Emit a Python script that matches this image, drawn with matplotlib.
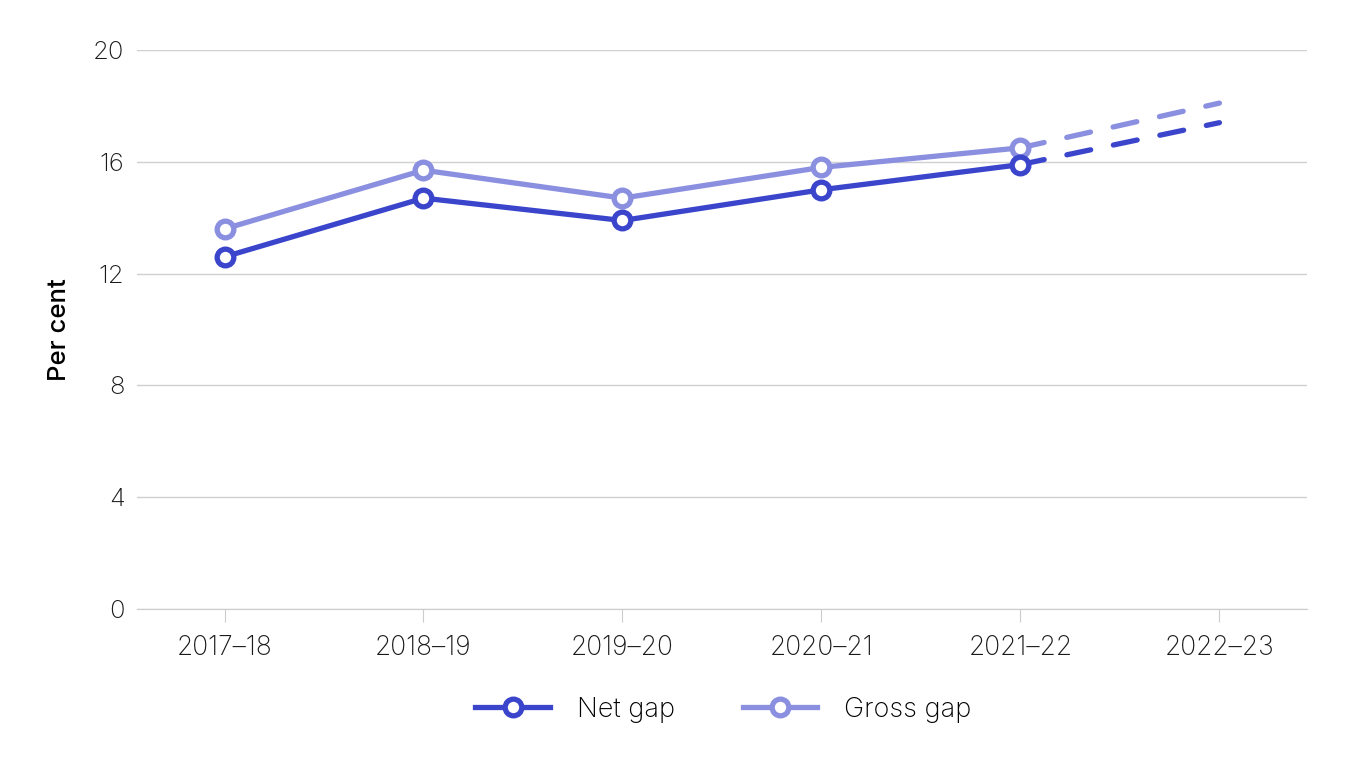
import matplotlib.pyplot as plt
from matplotlib.lines import Line2D

plt.rcParams['font.family'] = ['Inter', 'DejaVu Sans']

years = ['2017–18', '2018–19', '2019–20', '2020–21', '2021–22', '2022–23']
net_gap = [12.6, 14.7, 13.9, 15.0, 15.9]
gross_gap = [13.6, 15.7, 14.7, 15.8, 16.5]
# projections for 2022-23 (dashed)
net_proj = [15.9, 17.4]
gross_proj = [16.5, 18.1]

net_col = '#3a45cc'
gross_col = '#8a8fe0'
lw = 3.8

fig = plt.figure(figsize=(13.6, 7.6), dpi=100)
ax = fig.add_axes([0.1007, 0.1987, 0.8603, 0.7355])

x = list(range(len(years)))
n = len(net_gap)

dash = (0, (4.6, 4.4))
ax.plot(x[n - 1:], gross_proj, color=gross_col, lw=lw, ls=dash, dash_capstyle='round', zorder=2)
ax.plot(x[n - 1:], net_proj, color=net_col, lw=lw, ls=dash, dash_capstyle='round', zorder=2)
ax.plot(x[:n], gross_gap, color=gross_col, lw=lw, marker='o', ms=12, mfc='white', mec=gross_col, mew=lw, zorder=3)
ax.plot(x[:n], net_gap, color=net_col, lw=lw, marker='o', ms=12, mfc='white', mec=net_col, mew=lw, zorder=4)

ax.set_xlim(-0.44, 5.44)
ax.set_ylim(0, 20)
ax.set_yticks([0, 4, 8, 12, 16, 20])
ax.set_xticks(x)
ax.set_xticklabels(years)
ax.grid(axis='y', color='#d0d0d0', lw=1)
ax.set_axisbelow(True)
for s in ['top', 'right', 'left']:
    ax.spines[s].set_visible(False)
ax.spines['bottom'].set_color('#cccccc')
ax.tick_params(axis='y', length=0, pad=9, labelsize=18.5, labelcolor='#1a1a1a')
ax.tick_params(axis='x', length=9, color='#cccccc', pad=10, labelsize=19, labelcolor='#1a1a1a')
for t in ax.get_yticklabels() + ax.get_xticklabels():
    t.set_fontweight('light')
ax.set_ylabel('Per cent', fontsize=18.5, fontweight='medium', labelpad=16)

handles = [
    Line2D([], [], color=net_col, lw=lw, marker='o', ms=12, mfc='white', mec=net_col, mew=lw),
    Line2D([], [], color=gross_col, lw=lw, marker='o', ms=12, mfc='white', mec=gross_col, mew=lw),
]
leg = fig.legend(handles, ['Net gap', 'Gross gap'], loc='center', bbox_to_anchor=(0.532, 0.066),
                 ncol=2, frameon=False, fontsize=19.5, handlelength=2.75, columnspacing=2.5, handletextpad=1.0)
for t in leg.get_texts():
    t.set_fontweight('light')

fig.savefig('out.png', dpi=100)
